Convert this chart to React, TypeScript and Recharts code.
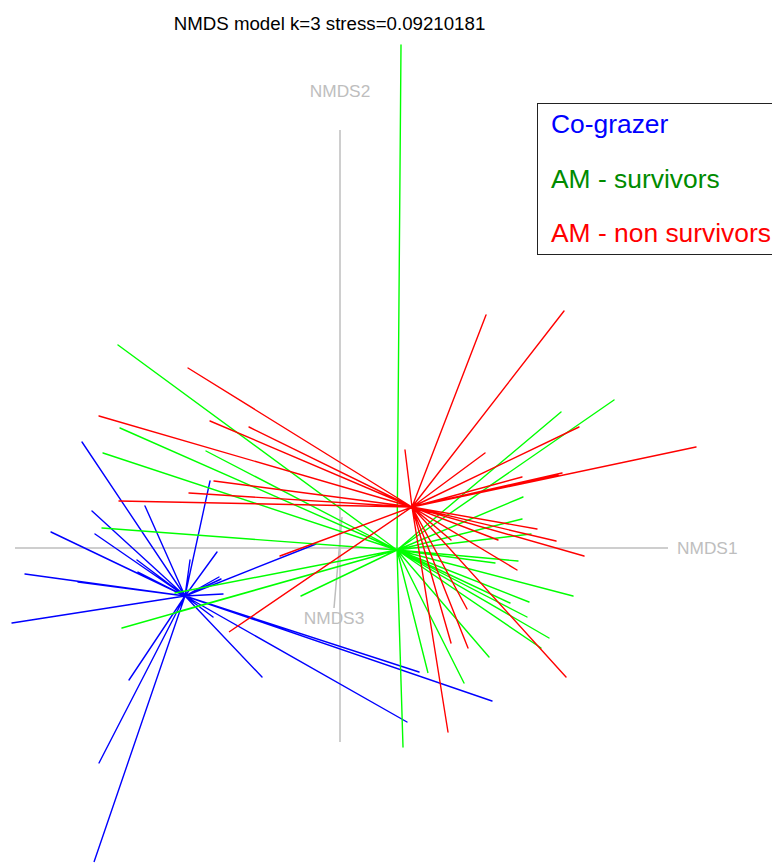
import { ReferenceDot, ReferenceLine, Scatter, ScatterChart, XAxis, YAxis } from "recharts";

type Pt = { x: number; y: number };

// NMDS scores (projected NMDS1 / NMDS2 view)
const title = "NMDS model k=3 stress=0.09210181";

const groups = ["Co-grazer", "AM - survivors", "AM - non survivors"];
const spokeColors = ["#0000ff", "#00ff00", "#ff0000"];
const legendColors = ["#0000ff", "#008b00", "#ff0000"];

const coGrazerCentroid: [number, number] = [-0.775, -0.24];
const coGrazerSites: [number, number][] = [
  [-1.29, 0.53], [-0.65, 0.335], [-0.975, 0.21], [-1.24, 0.185], [-1.445, 0.08],
  [-1.225, 0.07], [-0.615, -0.02], [-1.015, -0.06], [-1.01, -0.12], [-0.75, -0.06],
  [-1.575, -0.13], [-1.31, -0.17], [-0.605, -0.145], [-0.595, -0.155], [-0.585, -0.23],
  [-1.64, -0.375], [-0.12, 0.02], [-0.635, -0.345], [-0.39, -0.645], [0.395, -0.62],
  [0.76, -0.765], [0.335, -0.87], [-1.055, -0.66], [-1.205, -1.075], [-1.23, -1.57],
];

const survivorsCentroid: [number, number] = [0.285, -0.01];
const survivorsSites: [number, number][] = [
  [0.305, 2.515], [0.315, -0.995], [-1.11, 1.015], [-1.1, 0.6], [-1.185, 0.475],
  [-0.67, 0.485], [-1.19, 0.1], [-1.09, -0.4], [-0.815, -0.32], [-0.825, -0.225],
  [-0.195, -0.24], [1.37, 0.74], [1.105, 0.68], [0.915, 0.255], [0.91, 0.145],
  [0.955, 0.07], [0.89, -0.065], [0.775, -0.075], [1.165, -0.24], [0.945, -0.27],
  [0.85, -0.275], [0.935, -0.345], [1.045, -0.45], [1.005, -0.5], [0.745, -0.545],
  [0.62, -0.675], [0.44, -0.625],
];

const nonSurvivorsCentroid: [number, number] = [0.36, 0.205];
const nonSurvivorsSites: [number, number][] = [
  [0.73, 1.165], [1.12, 1.185], [0.325, 0.49], [0.725, 0.475], [1.195, 0.605],
  [1.78, 0.505], [1.11, 0.375], [1.09, 0.365], [0.91, 0.355], [0.985, 0.095],
  [1.08, 0.035], [1.22, -0.04], [0.79, 0.04], [0.555, 0.04], [0.885, -0.11],
  [1.13, -0.645], [0.635, -0.305], [0.64, -0.5], [0.555, -0.475], [0.54, -0.92],
  [-0.76, 0.9], [-1.205, 0.66], [-0.65, 0.635], [-0.455, 0.605], [-0.63, 0.335],
  [-0.755, 0.275], [-1.105, 0.235], [-0.3, -0.04], [-0.555, -0.42],
];

// ordination axes drawn as grey segments
const axisNames = ["NMDS1", "NMDS2", "NMDS3"];
const axisSegments: [[number, number], [number, number]][] = [
  [[-1.625, 0], [1.64, 0]],
  [[0, 2.09], [0, -0.97]],
  [[0.01, 0.155], [-0.03, -0.3]],
];

const W = 772;
const H = 863;

function spider(center: [number, number], sites: [number, number][]): Pt[] {
  const c = { x: center[0], y: center[1] };
  return sites.flatMap(([x, y]) => [c, { x, y }]);
}

const series = [
  spider(coGrazerCentroid, coGrazerSites),
  spider(survivorsCentroid, survivorsSites),
  spider(nonSurvivorsCentroid, nonSurvivorsSites),
];

const font = '"Liberation Sans", Arial, Helvetica, sans-serif';
const grey = "#bebebe";

export default function App() {
  return (
    <div style={{ position: "absolute", left: 0, top: 0, width: W, height: H, overflow: "hidden", background: "#fff" }}>
      <ScatterChart width={W} height={H} margin={{ top: 0, right: 0, bottom: 0, left: 0 }}>
        <XAxis type="number" dataKey="x" domain={[-1.7, 2.16]} hide allowDataOverflow />
        <YAxis type="number" dataKey="y" domain={[-1.575, 2.74]} hide allowDataOverflow />
        {axisSegments.map((seg, i) => (
          <ReferenceLine
            key={axisNames[i]}
            segment={[{ x: seg[0][0], y: seg[0][1] }, { x: seg[1][0], y: seg[1][1] }]}
            stroke={grey}
            strokeWidth={1.5}
          />
        ))}
        <ReferenceDot
          x={axisSegments[0][1][0]}
          y={axisSegments[0][1][1]}
          r={0}
          stroke="none"
          label={{ value: axisNames[0], position: "right", offset: 9, fill: grey, fontSize: 17.3, fontFamily: font }}
        />
        <ReferenceDot
          x={axisSegments[1][0][0]}
          y={axisSegments[1][0][1]}
          r={0}
          stroke="none"
          label={{ value: axisNames[1], position: "top", offset: 33, fill: grey, fontSize: 17.3, fontFamily: font }}
        />
        <ReferenceDot
          x={axisSegments[2][1][0]}
          y={axisSegments[2][1][1]}
          r={0}
          stroke="none"
          label={{ value: axisNames[2], position: "bottom", offset: 4, fill: grey, fontSize: 17.3, fontFamily: font }}
        />
        {series.map((data, i) => (
          <Scatter
            key={groups[i]}
            name={groups[i]}
            data={data}
            line={{ stroke: spokeColors[i], strokeWidth: 1.4, strokeLinejoin: "round" }}
            shape={() => <g />}
            legendType="none"
            isAnimationActive={false}
          />
        ))}
      </ScatterChart>
      <svg width={W} height={H} style={{ position: "absolute", left: 0, top: 0, pointerEvents: "none" }}>
        <text x={329.5} y={30} textAnchor="middle" fontFamily={font} fontSize={18.7} fill="#000">
          {title}
        </text>
        <rect x={537.5} y={103.5} width={300} height={151} fill="none" stroke="#222" strokeWidth={1} />
        {groups.map((g, i) => (
          <text key={g} x={551} y={133 + i * 54.5} fontFamily={font} fontSize={26.4} fill={legendColors[i]}>
            {g}
          </text>
        ))}
      </svg>
    </div>
  );
}
